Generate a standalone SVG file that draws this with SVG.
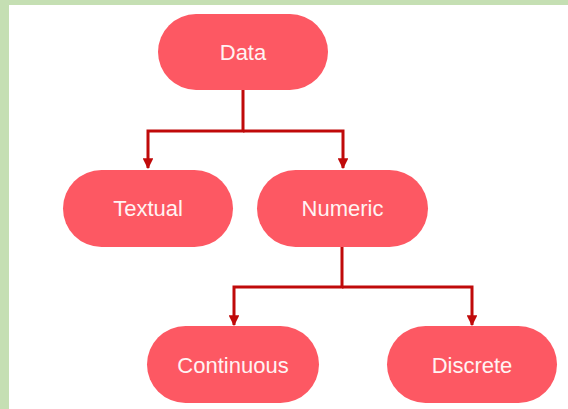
<svg xmlns="http://www.w3.org/2000/svg" width="568" height="409" viewBox="0 0 568 409">
<style>
.node rect{fill:#fd5863;}
.node text{font-family:"Liberation Sans",Arial,sans-serif;font-size:22px;fill:#fff3f3;text-anchor:middle;}
.conn{fill:none;stroke:#c00a0a;stroke-width:3;}
</style>
<defs>
<marker id="arr" viewBox="0 0 10 10" refX="9" refY="5" markerWidth="3.6" markerHeight="3.6" orient="auto" markerUnits="strokeWidth">
<path d="M0,0 L10,5 L0,10 z" fill="#c00a0a"/>
</marker>
</defs>
<rect x="0" y="0" width="568" height="409" fill="#ffffff"/>
<rect x="0" y="0" width="568" height="5" fill="#c5dfb3"/>
<rect x="0" y="0" width="9" height="409" fill="#c5dfb3"/>
<g id="connectors">
<path class="conn" d="M243,90 V131 H148 V168" marker-end="url(#arr)"/>
<path class="conn" d="M243,131 H343 V168" marker-end="url(#arr)"/>
<path class="conn" d="M342,247 V287 H234 V325" marker-end="url(#arr)"/>
<path class="conn" d="M342,287 H472 V325" marker-end="url(#arr)"/>
</g>
<g id="node-data" class="node"><rect x="158" y="14" width="170" height="76" rx="38"/><text x="243" y="59.5">Data</text></g>
<g id="node-textual" class="node"><rect x="63" y="170" width="170" height="77" rx="38.5"/><text x="148" y="215.5">Textual</text></g>
<g id="node-numeric" class="node"><rect x="257" y="170" width="171" height="77" rx="38.5"/><text x="342.5" y="215.5">Numeric</text></g>
<g id="node-continuous" class="node"><rect x="147" y="326" width="172" height="77" rx="38.5"/><text x="233" y="372.5">Continuous</text></g>
<g id="node-discrete" class="node"><rect x="387" y="326" width="170" height="77" rx="38.5"/><text x="472" y="372.5">Discrete</text></g>
</svg>
